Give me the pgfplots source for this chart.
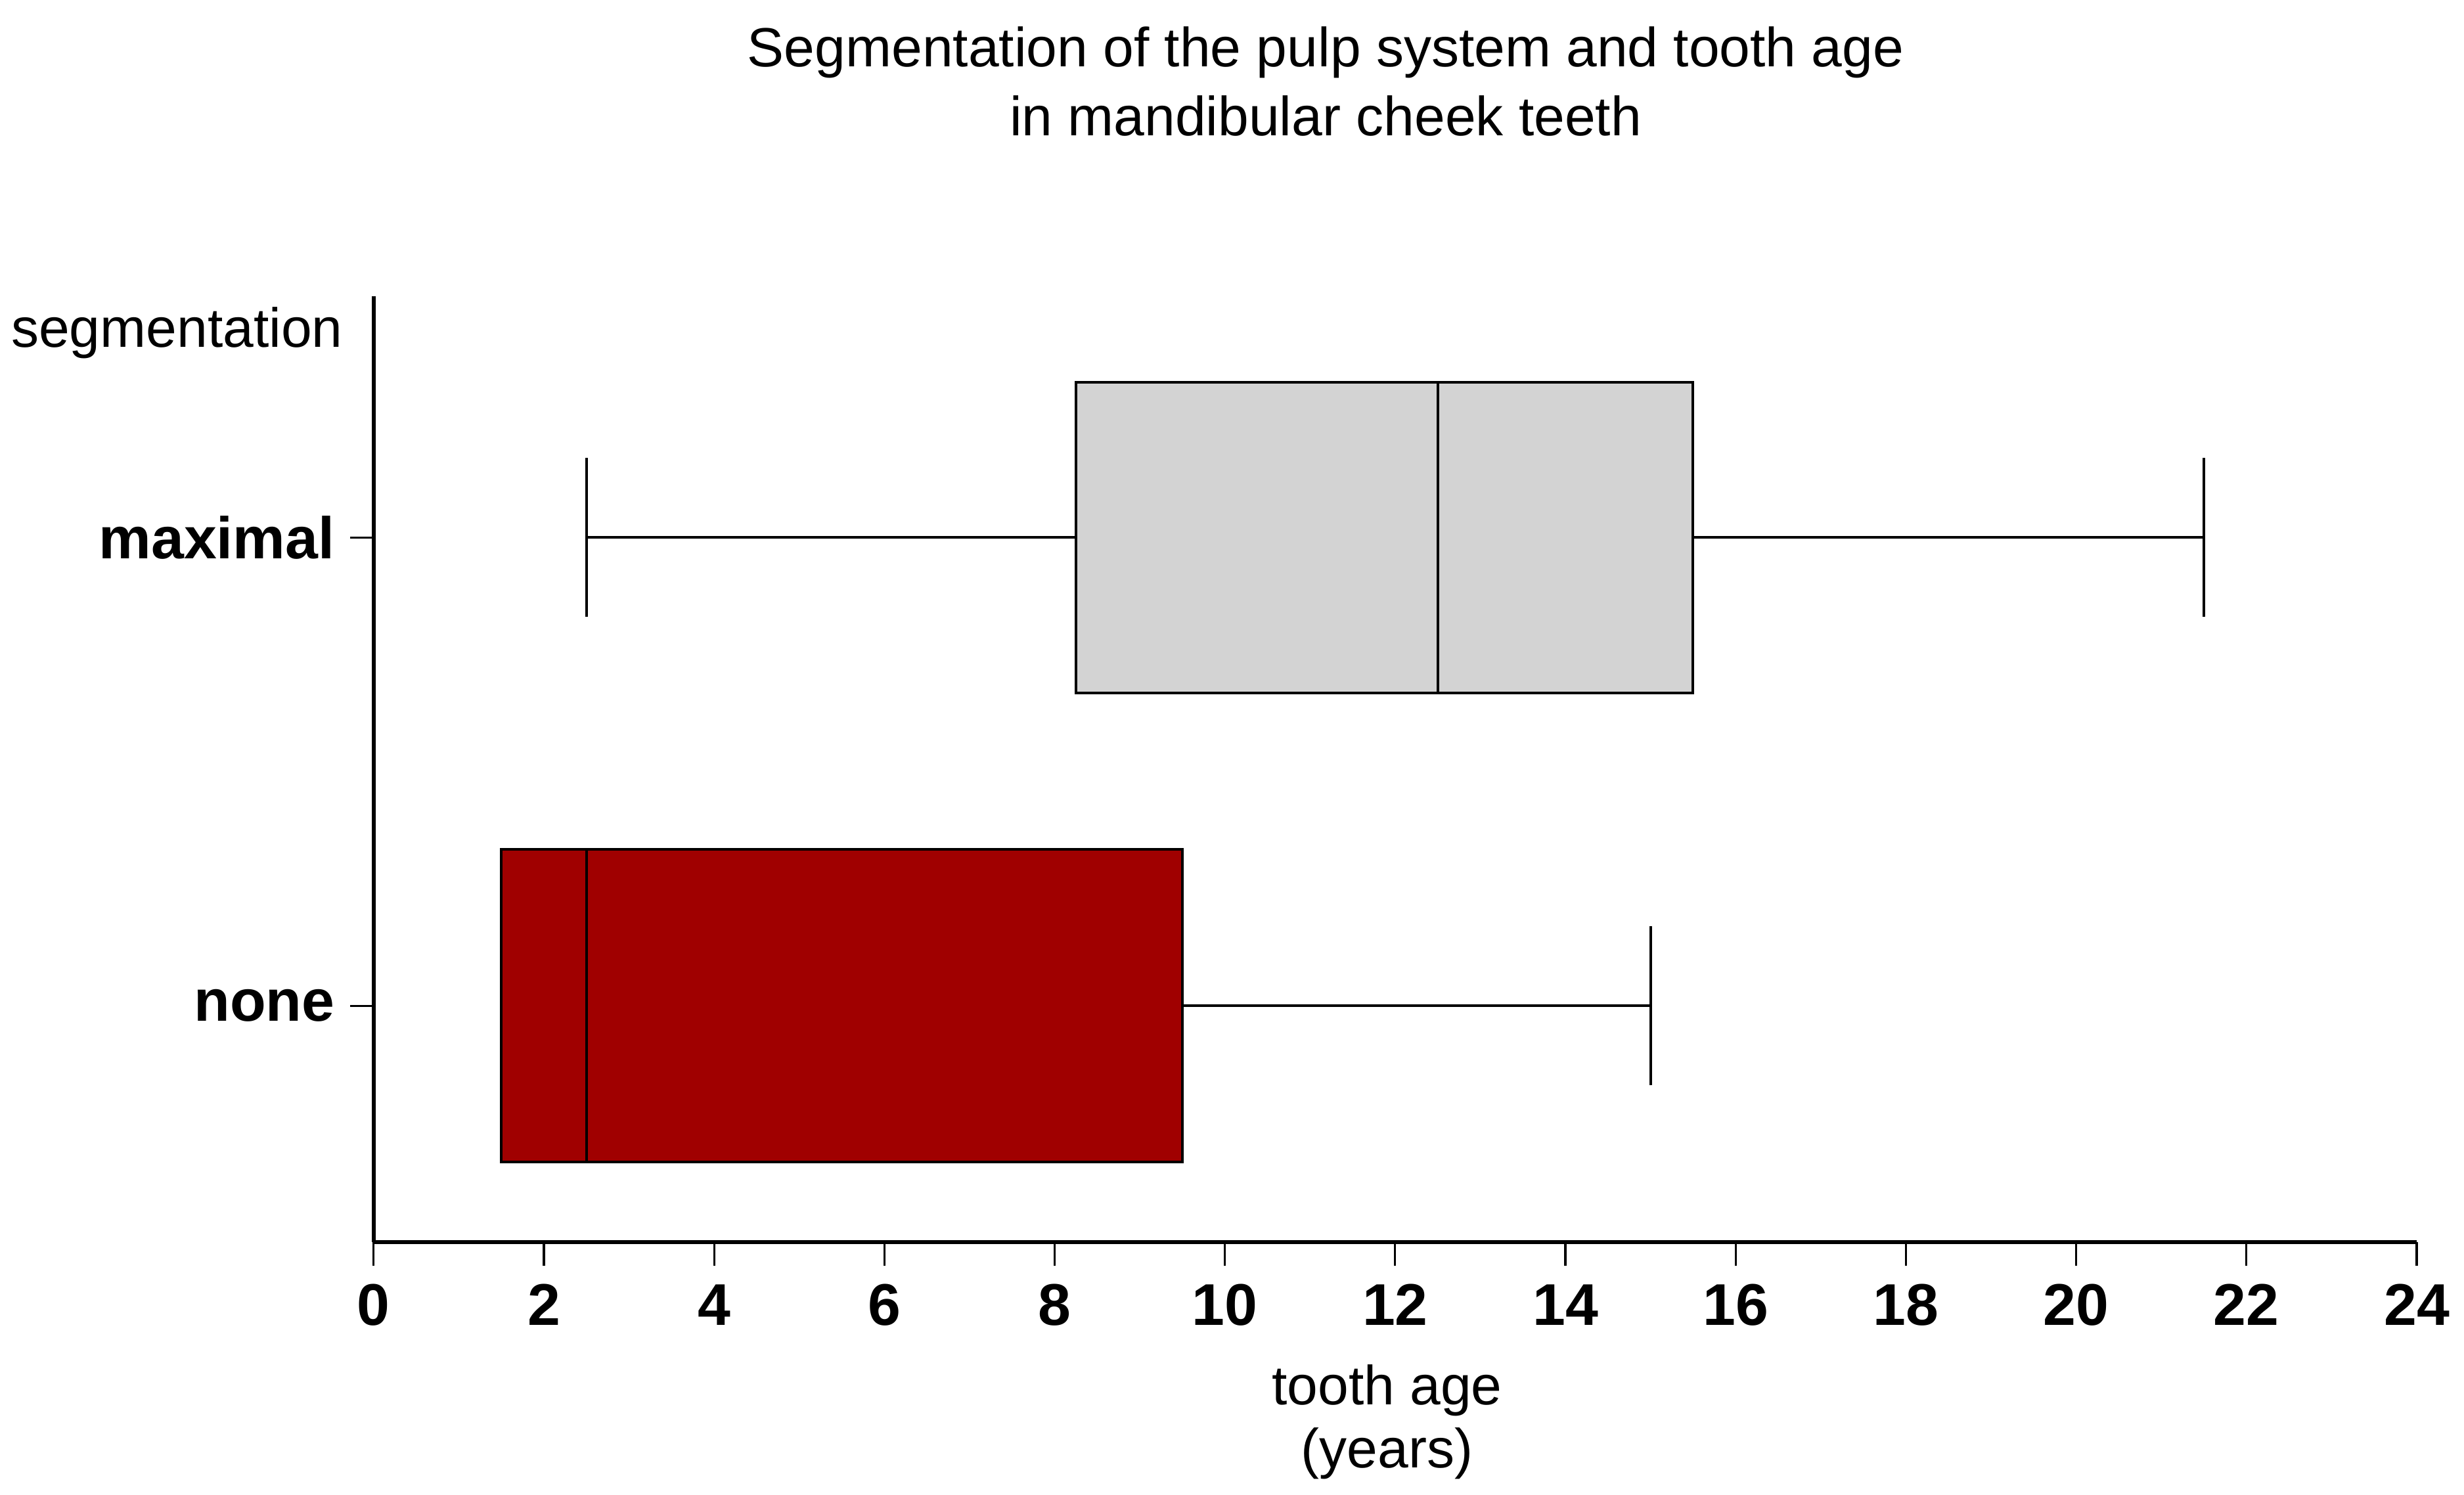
\documentclass[border=0pt]{standalone}
\usepackage{fontspec}
\setmainfont{Liberation Sans}
\usepackage{pgfplots}
\pgfplotsset{compat=1.18}
\usepgfplotslibrary{statistics}
\definecolor{boxgray}{RGB}{211,211,211}
\definecolor{boxred}{RGB}{160,0,0}
\begin{document}
\begin{tikzpicture}
\begin{axis}[
  scale only axis, width=388.8pt, height=180pt,
  xmin=0, xmax=24, ymin=0.495, ymax=2.515,
  axis x line*=bottom, axis y line*=left,
  axis line style={line width=0.7pt, -},
  xtick={0,2,...,24}, ytick={1,2}, yticklabels={none,maximal},
  tick align=outside, major tick length=4.5pt,
  tick style={black, line width=0.4pt},
  ticklabel style={font=\fontsize{11.2}{13}\selectfont\bfseries},
  yticklabel style={xshift=0.6pt},
  /pgf/number format/assume math mode=true,
  clip=false,
  boxplot/draw direction=x,
]
\addplot[boxplot prepared={lower whisker=2.5, lower quartile=8.25, median=12.5,
    upper quartile=15.5, upper whisker=21.5, draw position=2,
    box extend=0.663, whisker extend=0.34},
  draw=black, fill=boxgray, line width=0.5pt, solid, mark=none] coordinates {};
\addplot[boxplot prepared={lower whisker=1.5, lower quartile=1.5, median=2.5,
    upper quartile=9.5, upper whisker=15, draw position=1,
    box extend=0.667, whisker extend=0.34},
  draw=black, fill=boxred, line width=0.5pt, solid, mark=none] coordinates {};
\coordinate (ll) at (rel axis cs:0,0);
\coordinate (ur) at (rel axis cs:1,1);
\node[font=\fontsize{10.5}{12}\selectfont] at (rel axis cs:0.466,1) [yshift=46.4pt] {Segmentation of the pulp system and tooth age};
\node[font=\fontsize{10.5}{12}\selectfont] at (rel axis cs:0.466,1) [yshift=34.4pt] {in mandibular cheek teeth};
\node[font=\fontsize{10.5}{12}\selectfont, anchor=east, inner sep=0pt] at (rel axis cs:0,1) [xshift=-5.7pt, yshift=-6.9pt] {segmentation};
\node[font=\fontsize{10.5}{12}\selectfont] at (rel axis cs:0.496,0) [yshift=-28.2pt] {tooth age};
\node[font=\fontsize{10.5}{12}\selectfont] at (rel axis cs:0.496,0) [yshift=-40.2pt] {(years)};
\end{axis}
\pgfresetboundingbox
\path[use as bounding box] ([xshift=-71.1pt,yshift=-48pt]ll) rectangle ([xshift=9pt,yshift=56.4pt]ur);
\end{tikzpicture}
\end{document}
